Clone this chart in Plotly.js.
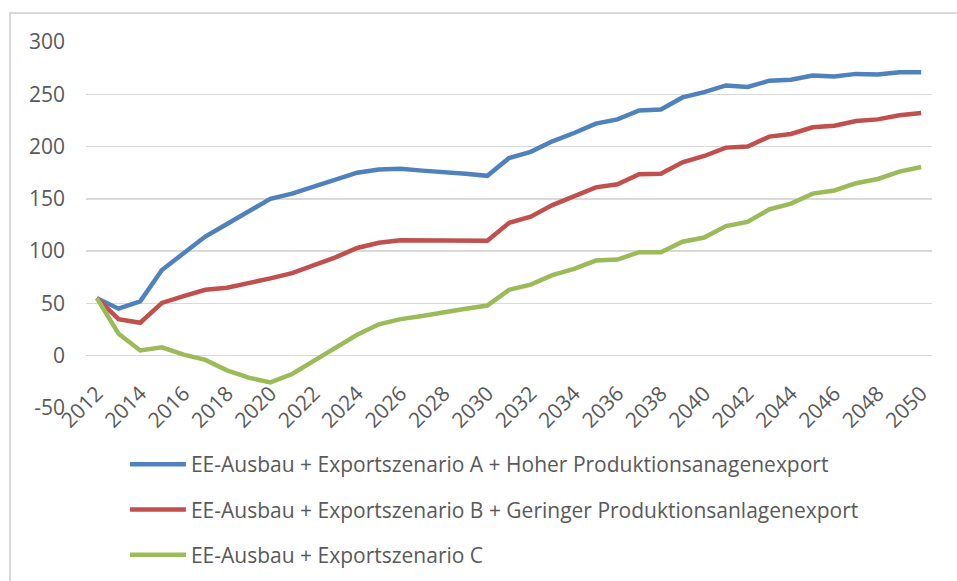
<!DOCTYPE html>
<html>
<head>
<meta charset="utf-8">
<script src="https://cdn.plot.ly/plotly-3.0.1.min.js"></script>
<style>
  html, body { margin: 0; padding: 0; background: #ffffff; }
  #wrap { position: relative; width: 957px; height: 581px; overflow: hidden; }
  #chart { position: absolute; left: 0; top: 0; width: 957px; height: 581px; }
  #frame { position: absolute; left: 9px; top: 12px; width: 960px; height: 600px;
           border-top: 2px solid #d9d9d9; border-left: 2px solid #d9d9d9; pointer-events: none; }
</style>
</head>
<body>
<div id="wrap">
  <div id="chart"></div>
  <div id="frame"></div>
</div>
<script>
const years = [2012,2013,2014,2015,2016,2017,2018,2019,2020,2021,2022,2023,2024,2025,2026,2027,2028,2029,2030,
               2031,2032,2033,2034,2035,2036,2037,2038,2039,2040,2041,2042,2043,2044,2045,2046,2047,2048,2049,2050];

const seriesA = [55,45,52,82,98,114,126,138,150,155,162,169,175,178,178.7,177,176,174,172,
                 189,195,205,213,222,226,234.5,235.5,247,252,258.5,257,263,264,268,267,269.5,269,271,271];

const seriesB = [55,35,31.5,50.5,57,63,65,69,74,79,86,94,103,108,110.5,110.5,110.5,110,110,
                 127,133,144,152,161,164,173.5,174,185,191,199,200,209.5,212,218.5,220,224.5,226,230,232];

const seriesC = [55,21,5,8,1,-4,-14,-21,-25.5,-17.5,-5,7,20,30,35,38,42,45,48,
                 63,68,77,83,91,92,99,99,109,113,124,128,140,145.5,155,158,165,169,176,180.5];

const nameA = "EE-Ausbau + Exportszenario A + Hoher Produktionsanagenexport";
const nameB = "EE-Ausbau + Exportszenario B + Geringer Produktionsanlagenexport";
const nameC = "EE-Ausbau + Exportszenario C";

const xTicks = [2012,2014,2016,2018,2020,2022,2024,2026,2028,2030,2032,2034,2036,2038,2040,2042,2044,2046,2048,2050];
const yTicks = [-50,0,50,100,150,200,250,300];

const FONT = "Open Sans, Noto Sans, sans-serif";

function mk(y, name, color, grp) {
  return { x: years, y: y, name: name, type: "scatter", mode: "lines",
           legendgroup: grp,
           line: { color: color, width: 4.5, shape: "linear" } };
}

const data = [
  mk(seriesA, nameA, "#4F81BD", "a"),
  mk(seriesB, nameB, "#C0504D", "b"),
  mk(seriesC, nameC, "#9BBB59", "c")
];

const layout = {
  width: 957, height: 581,
  paper_bgcolor: "#ffffff", plot_bgcolor: "#ffffff",
  margin: { l: 86, r: 25, t: 42, b: 173 },
  font: { family: FONT, color: "#595959", size: 21 },
  showlegend: true,
  xaxis: {
    range: [2011.5, 2050.5], automargin: false,
    tickmode: "array", tickvals: xTicks, ticktext: xTicks.map(String),
    tickangle: -45, showgrid: false, zeroline: false, showline: false,
    ticks: "", ticklabelstandoff: -32,
    tickfont: { family: FONT, size: 21, color: "#595959" }
  },
  yaxis: {
    range: [-50, 300], automargin: false,
    tickmode: "array", tickvals: yTicks, ticktext: yTicks.map(String),
    showgrid: true, gridcolor: "#d9d9d9", gridwidth: 1.5,
    zeroline: false, showline: false, ticks: "",
    ticklabelstandoff: 20,
    tickfont: { family: FONT, size: 21, color: "#595959" }
  },
  legend: {
    orientation: "v", xref: "paper", x: 0.046, xanchor: "left",
    yref: "container", y: 0.2358, yanchor: "top",
    traceorder: "grouped", tracegroupgap: 15,
    itemwidth: 56,
    font: { family: FONT, size: 21, color: "#595959" },
    bgcolor: "rgba(0,0,0,0)"
  }
};

Plotly.newPlot("chart", data, layout, { staticPlot: true, displayModeBar: false });
</script>
</body>
</html>
